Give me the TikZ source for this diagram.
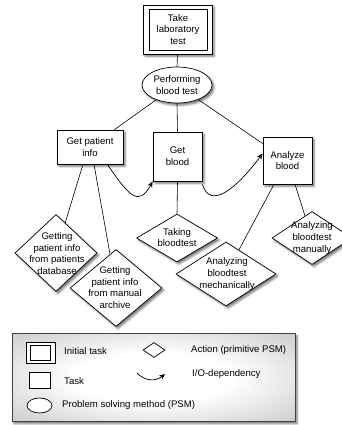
\documentclass[tikz,border=0pt]{standalone}
\usepackage{fontspec}
\setmainfont{Liberation Sans}
\usetikzlibrary{shapes.geometric,arrows.meta,calc,shadows.blur}

% soft grey glow for the legend panel
\pgfdeclareradialshading{legendglow}{\pgfpoint{0bp}{0bp}}{%
  color(0bp)=(white); color(14bp)=(white); color(50bp)=(black!33); color(72bp)=(black!45)}

\begin{document}
\begin{tikzpicture}[x=1pt,y=-1pt,
  every node/.style={font=\fontsize{9.6}{11.8}\selectfont, align=center, inner sep=0pt},
  shade/.style={blur shadow={shadow xshift=2pt, shadow yshift=-2.2pt, shadow blur radius=2.2pt, shadow opacity=55}},
  taskbox/.style={draw, fill=white, line width=0.7pt, shade},
  psmshape/.style={ellipse, draw, fill=white, line width=0.7pt, shade},
  action/.style={diamond, draw, fill=white, line width=0.7pt, shade},
  link/.style={line width=0.6pt},
  io/.style={line width=0.7pt, -{Stealth[length=6pt,width=5pt]}},
  legtext/.style={anchor=west}
]
\useasboundingbox (0,0) rectangle (342,425);
\clip (0,0) rectangle (342,425);

% ---- initial task ----
\node[taskbox, line width=0.8pt, minimum width=69pt, minimum height=49pt] (lab) at (177.5,29.5) {};
\node[draw, line width=0.7pt, minimum width=58pt, minimum height=41pt] (labin) at (178,29.5)
  {Take\\laboratory\\test};

% ---- problem solving method ----
\node[psmshape, minimum width=70pt, minimum height=36pt] (psm) at (177,85) {Performing\\blood test};

% ---- tasks ----
\node[taskbox, minimum width=66pt, minimum height=34pt] (gpi) at (90,147) {Get patient\\info};
\node[taskbox, minimum width=49pt, minimum height=49pt] (gb) at (177.5,156.5) {Get\\blood};
\node[taskbox, minimum width=49pt, minimum height=47pt] (ab) at (287.5,160.5) {Analyze\\blood};

% ---- actions ----
\node[action, minimum width=82pt, minimum height=77pt] (d1) at (56,253) {};
\node at (57,253.5) {Getting\\patient info\\from patients\\database};
\node[action, minimum width=92pt, minimum height=77pt] (d2) at (116,288) {};
\node at (115,287.5) {Getting\\patient info\\from manual\\archive};
\node[action, minimum width=81pt, minimum height=48pt] (d3) at (177,238) {};
\node at (177,237.5) {Taking\\bloodtest};
\node[action, minimum width=100pt, minimum height=64pt] (d4) at (226,274) {};
\node at (227,274) {Analyzing\\bloodtest\\mechanically};
\node[action, minimum width=80pt, minimum height=53pt] (d5) at (312,238) {};
\node at (312,238) {Analyzing\\bloodtest\\manually};

% ---- decomposition links ----
\draw[link] (lab.south) -- (psm.north);
\draw[link] (psm) -- (gpi);
\draw[link] (psm.south) -- (gb.north);
\draw[link] (psm) -- (ab);
\draw[link] ([xshift=-7pt]gpi.south) -- (d1);
\draw[link] ([xshift=4pt]gpi.south) -- (d2);
\draw[link] (gb.south) -- (d3.north);
\draw[link] ([xshift=-13.5pt]ab.south) -- (d4);
\draw[link] ([xshift=7.5pt]ab.south) -- (d5);

% ---- I/O dependencies ----
\draw[io] ([xshift=-16pt]gpi.south east) .. controls ($(gpi.south east)+(6,32)$) and ($(gb.south west)+(-14,26)$) .. (gb.south west);
\draw[io] ([yshift=-3pt]gb.south east) .. controls ($(gb.south east)+(8,28)$) and ($(ab.west)+(-28,30)$) .. ([yshift=7pt]ab.west);

% ---- legend ----
\node[draw=black!75, line width=0.8pt, shading=legendglow, shade, minimum width=283pt, minimum height=88pt] (legend) at (153.5,377.5) {};
\node[draw, fill=white, line width=0.7pt, minimum width=29pt, minimum height=21pt] (lgInit) at (40.5,352.5) {};
\node[draw, line width=0.7pt, minimum width=20pt, minimum height=15pt] (lgInitIn) at (40,352.5) {};
\node[legtext] (lgInitT) at (64,351) {Initial task};
\node[draw, fill=white, line width=0.7pt, minimum width=21pt, minimum height=16pt] (lgTask) at (39.5,380.5) {};
\node[legtext] (lgTaskT) at (64,381) {Task};
\node[ellipse, draw, fill=white, line width=0.7pt, minimum width=25pt, minimum height=15pt] (lgPsm) at (39.5,405.5) {};
\node[legtext] (lgPsmT) at (62,405) {Problem solving method (PSM)};
\node[diamond, draw, fill=white, line width=0.7pt, minimum width=22pt, minimum height=15pt] (lgAct) at (154,350) {};
\node[legtext] (lgActT) at (191,350) {Action (primitive PSM)};
\coordinate (lgIoA) at (137,373);
\coordinate (lgIoB) at (165,374);
\draw[io] (lgIoA) .. controls (145,381) and (155,382) .. (lgIoB);
\node[legtext] (lgIoT) at (192,374) {I/O-dependency};
\end{tikzpicture}
\end{document}
